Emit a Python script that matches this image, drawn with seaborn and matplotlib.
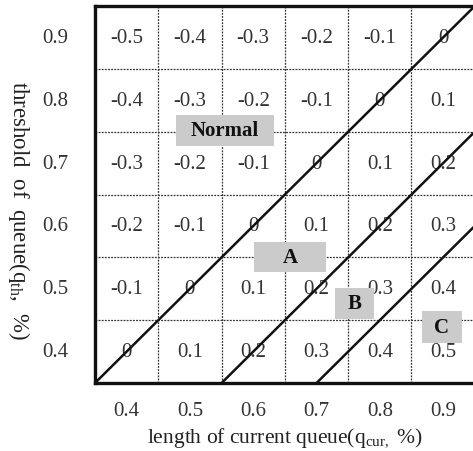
import numpy as np
import pandas as pd
import matplotlib
matplotlib.use("Agg")
import matplotlib.pyplot as plt
from matplotlib.colors import ListedColormap
from matplotlib.patches import Rectangle
import seaborn as sns

# grid levels (cell centres)
x_levels = [0.4, 0.5, 0.6, 0.7, 0.8, 0.9]
y_levels = [0.9, 0.8, 0.7, 0.6, 0.5, 0.4]

# cell values (rows top to bottom)
cell_values = [
    [-0.5, -0.4, -0.3, -0.2, -0.1, 0.0],
    [-0.4, -0.3, -0.2, -0.1, 0.0, 0.1],
    [-0.3, -0.2, -0.1, 0.0, 0.1, 0.2],
    [-0.2, -0.1, 0.0, 0.1, 0.2, 0.3],
    [-0.1, 0.0, 0.1, 0.2, 0.3, 0.4],
    [0.0, 0.1, 0.2, 0.3, 0.4, 0.5],
]

# region boundaries: q_th = q_cur - offset
boundary_offsets = [0.0, 0.2, 0.35]

# region labels (data coordinates) and box sizes (cell units)
region_names = ["Normal", "A", "B", "C"]
region_x = [0.555, 0.658, 0.760, 0.898]
region_y = [0.752, 0.550, 0.477, 0.439]
region_box_w = [1.55, 1.14, 0.62, 0.62]
region_box_h = [0.48, 0.48, 0.49, 0.50]

sns.set_style("white")
plt.rcParams["font.family"] = ["Liberation Serif", "DejaVu Serif"]
plt.rcParams["mathtext.fontset"] = "custom"
plt.rcParams["mathtext.rm"] = "Liberation Serif"
plt.rcParams["mathtext.it"] = "Liberation Serif:italic"

df = pd.DataFrame(cell_values, index=y_levels, columns=x_levels)
annot = df.map(lambda v: "0" if abs(v) < 1e-9 else f"{v:.1f}")

fig = plt.figure(figsize=(4.73, 4.52), dpi=100)
ax = fig.add_axes([0.2008, 0.1504, 0.803, 0.834])

sns.heatmap(df, ax=ax, cmap=ListedColormap(["white"]), cbar=False,
            annot=annot.values, fmt="",
            annot_kws={"color": "#333333", "fontsize": 15},
            xticklabels=[f"{v:.1f}" for v in x_levels],
            yticklabels=[f"{v:.1f}" for v in y_levels])

step = 0.1
x0 = x_levels[0] - step / 2
x1 = x_levels[-1] + step / 2
y_top = y_levels[0] + step / 2
y_bot = y_levels[-1] - step / 2


def to_cell(x, y):
    return (x - x0) / step, (y_top - y) / step


# dotted inner grid
n = len(x_levels)
for k in range(1, n):
    ax.axvline(k, color="#333333", lw=0.9, ls=(0, (1.5, 1.0)), zorder=2)
    ax.axhline(k, color="#333333", lw=0.9, ls=(0, (1.5, 1.0)), zorder=2)

# diagonal region boundaries
for d in boundary_offsets:
    xa, ya = to_cell(y_bot + d, y_bot)
    xb, yb = to_cell(x1, x1 - d)
    ax.plot([xa, xb], [ya, yb], color="#111111", lw=1.8, zorder=3,
            solid_capstyle="butt")

# region labels with grey boxes
for name, rx, ry, bw, bh in zip(region_names, region_x, region_y,
                                region_box_w, region_box_h):
    cx, cy = to_cell(rx, ry)
    ax.add_patch(Rectangle((cx - bw / 2, cy - bh / 2), bw, bh,
                           facecolor="#cbcbcb", edgecolor="none", zorder=4))
    ax.text(cx, cy, name, ha="center", va="center", fontsize=15,
            fontweight="bold", color="#111111", zorder=5)

ax.set_xlim(0, n)
ax.set_ylim(n, 0)
for s in ax.spines.values():
    s.set_visible(True)
    s.set_linewidth(2.4)
    s.set_color("#111111")

ax.tick_params(axis="x", length=0, pad=13, labelsize=15, colors="#333333")
ax.tick_params(axis="y", length=0, pad=19, labelsize=15, colors="#333333",
               labelrotation=0)

ax.set_xlabel(r"length of current queue(q$_{\rm cur,}$ %)", fontsize=15.5,
              color="#222222", labelpad=4)
ax.set_ylabel(r"threshold  of  queue(q$_{\rm th}$,  %)", fontsize=16.5,
              color="#222222", rotation=270, va="center")
ax.yaxis.set_label_coords(-0.2, 0.46)

fig.savefig("out.png", dpi=100)
